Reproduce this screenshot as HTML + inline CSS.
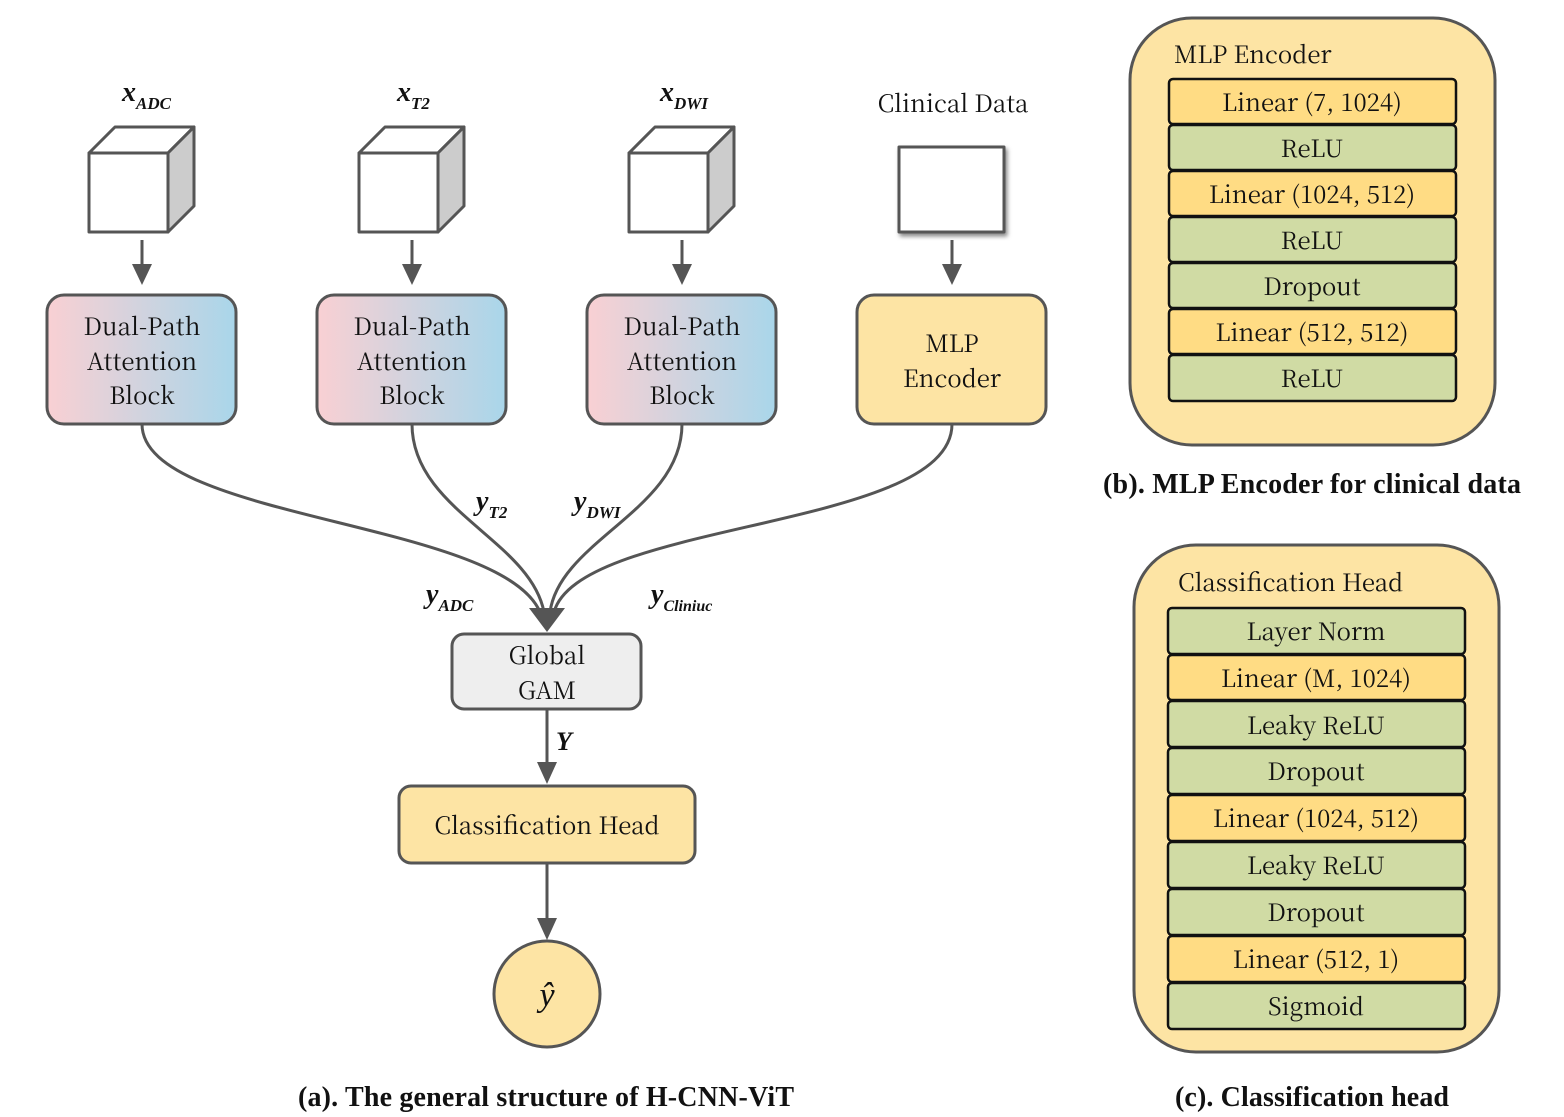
<!DOCTYPE html>
<html><head><style>body{margin:0;background:#fff}svg{display:block}svg text{font-family:"Noto Serif CJK SC","Liberation Serif","DejaVu Serif",serif}svg .b text{font-family:"Liberation Serif",serif}</style></head><body>
<svg width="1564" height="1117" viewBox="0 0 1564 1117" xmlns="http://www.w3.org/2000/svg">
<defs>
<linearGradient id="g" x1="0" x2="1"><stop offset="0" stop-color="#f9d0d3"/><stop offset="1" stop-color="#a9d6ea"/></linearGradient>
<filter id="sh"><feDropShadow dx="2" dy="3" stdDeviation="2" flood-color="#888"/></filter>
</defs>
<g stroke="#555" stroke-width="3" stroke-linejoin="round">
<g id="cube"><path d="M89,153 L115,127 L194,127 L168,153 Z" fill="#fff"/><path d="M168,153 L194,127 L194,206 L168,232 Z" fill="#ccc"/><rect x="89" y="153" width="79" height="79" fill="#fff"/></g>
<use href="#cube" x="270"/><use href="#cube" x="540"/>
<rect x="899" y="147" width="105" height="85" fill="#fff" filter="url(#sh)"/>
</g>
<g stroke="#555" stroke-width="3" fill="#555">
<line x1="142" y1="240" x2="142" y2="266"/><path d="M132,264 L152,264 L142,285 Z" stroke="none"/>
<line x1="412" y1="240" x2="412" y2="266"/><path d="M402,264 L422,264 L412,285 Z" stroke="none"/>
<line x1="682" y1="240" x2="682" y2="266"/><path d="M672,264 L692,264 L682,285 Z" stroke="none"/>
<line x1="952" y1="240" x2="952" y2="266"/><path d="M942,264 L962,264 L952,285 Z" stroke="none"/>
</g>
<g stroke="#555" stroke-width="3">
<rect x="47" y="295" width="189" height="129" rx="17" fill="url(#g)"/>
<rect x="317" y="295" width="189" height="129" rx="17" fill="url(#g)"/>
<rect x="587" y="295" width="189" height="129" rx="17" fill="url(#g)"/>
<rect x="857" y="295" width="189" height="129" rx="17" fill="#fde4a4"/>
<rect x="452" y="634" width="189" height="75" rx="12" fill="#eee"/>
<rect x="399" y="786" width="296" height="77" rx="12" fill="#fde4a4"/>
<circle cx="547" cy="994" r="53" fill="#fde4a4"/>
</g>
<g stroke="#555" stroke-width="3" fill="none">
<path d="M142,424 C142,520 500,520 540,612"/>
<path d="M412,424 C412,510 530,540 544,612"/>
<path d="M682,424 C682,510 560,540 550,612"/>
<path d="M952,424 C952,530 580,520 554,612"/>
<line x1="547" y1="709" x2="547" y2="765"/>
<line x1="547" y1="863" x2="547" y2="920"/>
</g>
<g fill="#555">
<path d="M529,608 L565,608 L547,632 Z"/>
<path d="M537,762 L557,762 L547,784 Z"/>
<path d="M537,918 L557,918 L547,940 Z"/>
</g>
<g font-size="24" text-anchor="middle" fill="#111">
<text x="142" y="335">Dual-Path</text><text x="142" y="370">Attention</text><text x="142" y="404">Block</text>
<text x="412" y="335">Dual-Path</text><text x="412" y="370">Attention</text><text x="412" y="404">Block</text>
<text x="682" y="335">Dual-Path</text><text x="682" y="370">Attention</text><text x="682" y="404">Block</text>
<text x="952" y="352">MLP</text><text x="952" y="387">Encoder</text>
<text x="547" y="664">Global</text><text x="547" y="699">GAM</text>
<text x="547" y="834">Classification Head</text>
<text x="953" y="112">Clinical Data</text>
<text x="547" y="1006" font-style="italic" font-size="34">ŷ</text>
</g>
<g class="b" font-style="italic" font-weight="bold" fill="#111">
<text x="122" y="101" font-size="28">x<tspan font-size="17" dy="8">ADC</tspan></text>
<text x="397" y="101" font-size="28">x<tspan font-size="17" dy="8">T2</tspan></text>
<text x="660" y="101" font-size="28">x<tspan font-size="17" dy="8">DWI</tspan></text>
<text x="476" y="510" font-size="28">y<tspan font-size="17" dy="8">T2</tspan></text>
<text x="574" y="510" font-size="28">y<tspan font-size="17" dy="8">DWI</tspan></text>
<text x="426" y="603" font-size="28">y<tspan font-size="17" dy="8">ADC</tspan></text>
<text x="651" y="603" font-size="28">y<tspan font-size="16" dy="8">Cliniuc</tspan></text>
<text x="556" y="750" font-size="26">Y</text>
</g>
<rect x="1130" y="18" width="365" height="427" rx="62" fill="#fde4a4" stroke="#555" stroke-width="3"/>
<rect x="1134" y="545" width="365" height="507" rx="62" fill="#fde4a4" stroke="#555" stroke-width="3"/>
<g stroke="#111" stroke-width="2.5">
<rect x="1169" y="79" width="287" height="45" rx="4" fill="#ffdc84"/>
<rect x="1169" y="125" width="287" height="45" rx="4" fill="#d0dba4"/>
<rect x="1169" y="171" width="287" height="45" rx="4" fill="#ffdc84"/>
<rect x="1169" y="217" width="287" height="45" rx="4" fill="#d0dba4"/>
<rect x="1169" y="263" width="287" height="45" rx="4" fill="#d0dba4"/>
<rect x="1169" y="309" width="287" height="45" rx="4" fill="#ffdc84"/>
<rect x="1169" y="355" width="287" height="46" rx="4" fill="#d0dba4"/>
<rect x="1168" y="608" width="297" height="46" rx="4" fill="#d0dba4"/>
<rect x="1168" y="655" width="297" height="45" rx="4" fill="#ffdc84"/>
<rect x="1168" y="701" width="297" height="46" rx="4" fill="#d0dba4"/>
<rect x="1168" y="748" width="297" height="46" rx="4" fill="#d0dba4"/>
<rect x="1168" y="795" width="297" height="46" rx="4" fill="#ffdc84"/>
<rect x="1168" y="842" width="297" height="46" rx="4" fill="#d0dba4"/>
<rect x="1168" y="889" width="297" height="46" rx="4" fill="#d0dba4"/>
<rect x="1168" y="936" width="297" height="46" rx="4" fill="#ffdc84"/>
<rect x="1168" y="983" width="297" height="46" rx="4" fill="#d0dba4"/>
</g>
<g font-size="24" fill="#111">
<text x="1174" y="63">MLP Encoder</text>
<text x="1178" y="591">Classification Head</text>
</g>
<g font-size="24" fill="#111" text-anchor="middle">
<text x="1312" y="111">Linear (7, 1024)</text>
<text x="1312" y="157">ReLU</text>
<text x="1312" y="203">Linear (1024, 512)</text>
<text x="1312" y="249">ReLU</text>
<text x="1312" y="295">Dropout</text>
<text x="1312" y="341">Linear (512, 512)</text>
<text x="1312" y="387">ReLU</text>
<text x="1316" y="640">Layer Norm</text>
<text x="1316" y="687">Linear (M, 1024)</text>
<text x="1316" y="734">Leaky ReLU</text>
<text x="1316" y="780">Dropout</text>
<text x="1316" y="827">Linear (1024, 512)</text>
<text x="1316" y="874">Leaky ReLU</text>
<text x="1316" y="921">Dropout</text>
<text x="1316" y="968">Linear (512, 1)</text>
<text x="1316" y="1015">Sigmoid</text>
</g>
<g class="b" font-size="28" font-weight="bold" fill="#111" text-anchor="middle">
<text x="1312" y="493" textLength="418">(b). MLP Encoder for clinical data</text>
<text x="1312" y="1106" textLength="274">(c). Classification head</text>
<text x="546" y="1106" textLength="496">(a). The general structure of H-CNN-ViT</text>
</g>
</svg>
</body></html>
